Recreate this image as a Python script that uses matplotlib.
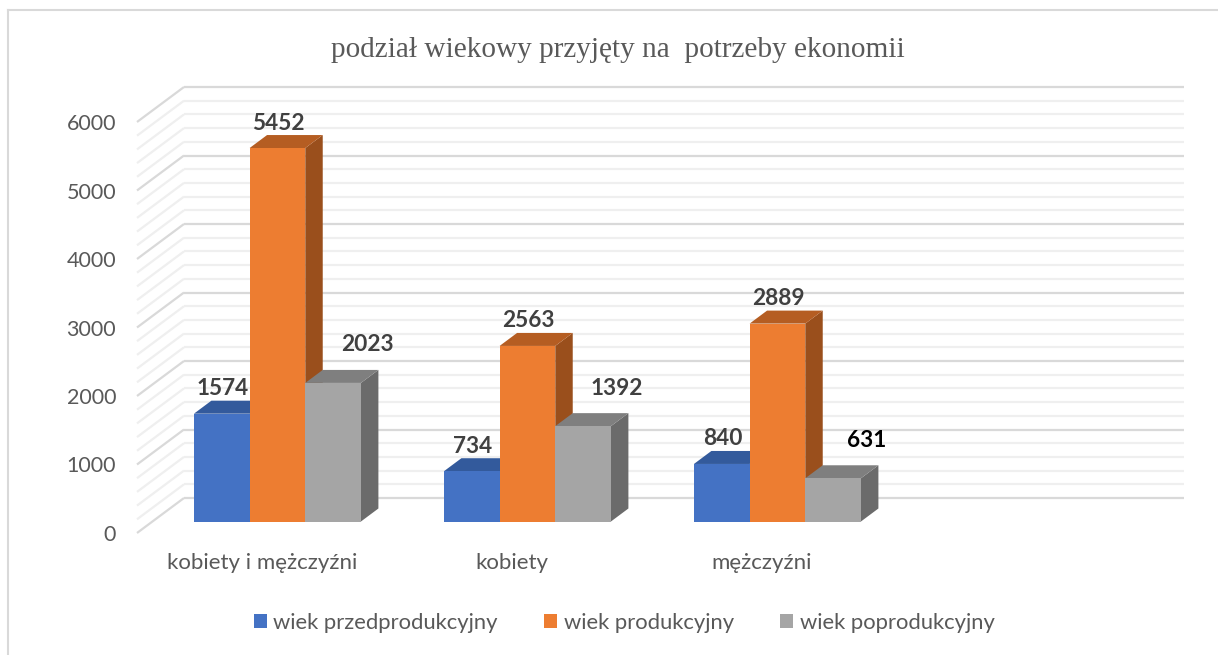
import matplotlib
matplotlib.use("Agg")
import matplotlib.pyplot as plt
from matplotlib.patches import Polygon, Patch

# ---------------- data ----------------
categories = ["kobiety i mężczyźni", "kobiety", "mężczyźni"]
series_names = ["wiek przedprodukcyjny", "wiek produkcyjny", "wiek poprodukcyjny"]
przedprodukcyjny = [1574, 734, 840]
produkcyjny = [5452, 2563, 2889]
poprodukcyjny = [2023, 1392, 631]
y_ticks = [0, 1000, 2000, 3000, 4000, 5000, 6000]
title = "podział wiekowy przyjęty na  potrzeby ekonomii"

series_values = [przedprodukcyjny, produkcyjny, poprodukcyjny]

# ---------------- style ----------------
front_cols = ["#4472C4", "#ED7D31", "#A5A5A5"]
top_cols = ["#335A9C", "#B55D22", "#7F7F7F"]
side_cols = ["#2F5597", "#9A4F1C", "#6B6B6B"]
text_col = "#595959"
lab_col = "#404040"
FONT = "Lato"

W, H, DPI = 1218, 655, 100
fig = plt.figure(figsize=(W / DPI, H / DPI), dpi=DPI)
fig.patch.set_facecolor("white")

# front plane of the 3-D box
ax = fig.add_axes([137 / W, (H - 533) / H, 1000 / W, 411 / H])
n_slots = 4
ymax = 6000
ax.set_xlim(0, n_slots)
ax.set_ylim(0, ymax)
ax.axis("off")

px_x = 1000 / n_slots          # pixels per x unit
px_y = 411 / ymax              # pixels per y unit
depth_dx = 47 / px_x
depth_dy = 35 / px_y


def P(x, y, t):
    return (x + t * depth_dx, y + t * depth_dy)


# gridlines: back wall + side wall
for v in range(0, ymax + 1, 200):
    major = v % 1000 == 0
    col = "#d9d9d9" if major else "#efefef"
    lw = 1.6
    xs, ys = zip(P(0, v, 1), P(n_slots, v, 1))
    ax.plot(xs, ys, color=col, lw=lw, clip_on=False, zorder=1,
            solid_capstyle="butt")
    xs, ys = zip(P(0, v, 0), P(0, v, 1))
    ax.plot(xs, ys, color=col, lw=lw, clip_on=False, zorder=1,
            solid_capstyle="butt")

# bars
t0 = 11.5 / 35
t1 = t0 + 13 / 35
gap = 41.5 / 250
bw = (1 - 2 * gap) / 3
z = 5
for i in range(len(categories)):
    for s, vals in enumerate(series_values):
        v = vals[i]
        x0 = i + gap + s * bw
        x1 = x0 + bw
        side = Polygon([P(x1, 0, t0), P(x1, v, t0), P(x1, v, t1), P(x1, 0, t1)],
                       closed=True, facecolor=side_cols[s], edgecolor="none",
                       clip_on=False, zorder=z)
        top = Polygon([P(x0, v, t0), P(x1, v, t0), P(x1, v, t1), P(x0, v, t1)],
                      closed=True, facecolor=top_cols[s], edgecolor="none",
                      clip_on=False, zorder=z)
        front = Polygon([P(x0, 0, t0), P(x1, 0, t0), P(x1, v, t0), P(x0, v, t0)],
                        closed=True, facecolor=front_cols[s], edgecolor="none",
                        clip_on=False, zorder=z + 1)
        ax.add_patch(side)
        ax.add_patch(top)
        ax.add_patch(front)
        z += 2
        # data label
        cx, cy = P((x0 + x1) / 2, v, t0)
        if s == 2:
            off = (34 * 0.72, 38 * 0.72)
        else:
            off = (1 * 0.72, 25 * 0.72)
        col = "black" if (s == 2 and i == 2) else lab_col
        ax.annotate(str(v), (cx, cy), xytext=off, textcoords="offset points",
                    ha="center", va="center", fontsize=16.3, fontweight="bold",
                    family=FONT, color=col, zorder=100, annotation_clip=False)

# y tick labels
for v in y_ticks:
    ax.annotate(str(v), (0, v), xytext=(-21 * 0.72, -2 * 0.72),
                textcoords="offset points", ha="right", va="center",
                fontsize=15.5, family=FONT, color=text_col, annotation_clip=False)

# category labels
for i, c in enumerate(categories):
    ax.annotate(c, (i + 0.5, 0), xytext=(0, -30 * 0.72),
                textcoords="offset points", ha="center", va="center",
                fontsize=16, family=FONT, color=text_col, annotation_clip=False)

# title
fig.text(618 / W, 1 - 50 / H, title, ha="center", va="center",
         family="Liberation Serif", fontsize=21.1, color=text_col)

# legend
handles = [Patch(facecolor=front_cols[s], edgecolor="none") for s in range(3)]
fig.legend(handles, series_names, loc="center", bbox_to_anchor=(624 / W, 1 - 623 / H),
           ncol=3, frameon=False, prop={"family": FONT, "size": 15.8},
           labelcolor=text_col, handlelength=0.6, handleheight=0.6,
           handletextpad=0.3, columnspacing=2.1)

# outer chart border (only top and left visible)
fig.add_artist(plt.Line2D([8 / W, 1], [1 - 10 / H, 1 - 10 / H],
                          transform=fig.transFigure, color="#d9d9d9", lw=1.5))
fig.add_artist(plt.Line2D([8 / W, 8 / W], [0, 1 - 10 / H],
                          transform=fig.transFigure, color="#d9d9d9", lw=1.5))

fig.savefig("out.png", dpi=DPI)
